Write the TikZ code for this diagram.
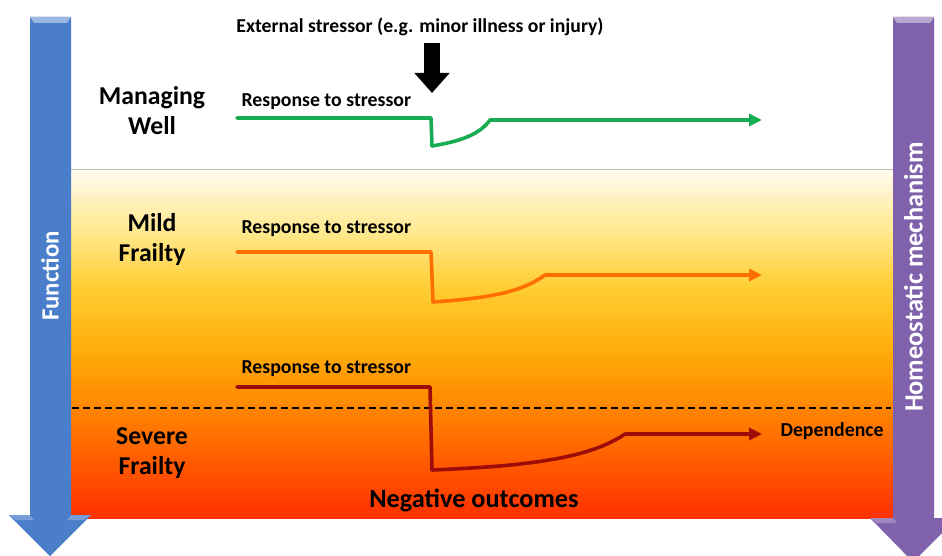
\documentclass[tikz,border=0pt]{standalone}
\usepackage{fontspec}
\setmainfont{Carlito}
\usetikzlibrary{arrows.meta,calc,positioning}
\definecolor{funcblue}{RGB}{74,126,203}
\definecolor{homeopurple}{RGB}{128,98,172}
\definecolor{wellgreen}{RGB}{24,172,82}
\definecolor{mildorange}{RGB}{255,110,0}
\definecolor{severered}{RGB}{158,12,10}
\definecolor{edgegray}{RGB}{185,185,185}
\definecolor{bandtop}{RGB}{255,251,238}
\definecolor{bandpale}{RGB}{255,232,140}
\definecolor{bandyellow}{RGB}{255,205,50}
\definecolor{bandamber}{RGB}{255,172,10}
\definecolor{bandorange}{RGB}{255,135,0}
\definecolor{banddeep}{RGB}{255,85,0}
\definecolor{bandbottom}{RGB}{255,48,0}
\pgfdeclareverticalshading{frailtyband}{100bp}{%
  color(0bp)=(bandbottom); color(25bp)=(bandbottom); color(32bp)=(banddeep);
  color(41bp)=(bandorange); color(49bp)=(bandamber); color(58bp)=(bandyellow);
  color(66bp)=(bandpale); color(75bp)=(bandtop); color(100bp)=(bandtop)}

\begin{document}
\begin{tikzpicture}[x=1pt,y=-1pt,>=Latex,line cap=round,line join=round,
  levelname/.style={font=\fontsize{25.7}{30}\selectfont\bfseries,align=center},
  resplabel/.style={font=\fontsize{19.8}{22}\selectfont\bfseries,anchor=west},
  axislabel/.style={rotate=90,text=white,font=\fontsize{24.8}{28}\selectfont\bfseries},
  response/.style={line width=3.6pt,-{Triangle[length=13pt,width=12pt]}}]
\useasboundingbox (0,0) rectangle (942,556);
\fill[white] (0,0) rectangle (942,556);

% Frailty band
\shade[shading=frailtyband] (71,170) rectangle (893,518);
\draw[edgegray,line width=1pt] (71,170) -- (893,170);
\draw[line width=1.6pt,line cap=butt,dash pattern=on 7pt off 4pt] (72,408) -- (891,408);

% Function arrow
\fill[funcblue] (30,17) -- (71,17) -- (71,515) -- (91,515) -- (50,556)
  -- (9,515) -- (30,515) -- cycle;
\fill[funcblue!55!white] (30,17) -- (71,17) -- (67,23) -- (34,23) -- cycle;
\fill[funcblue!75!white] (9,515) -- (30,515) -- (34,520) -- (16,520) -- cycle;
\fill[funcblue!75!white] (91,515) -- (71,515) -- (67,520) -- (84,520) -- cycle;
\node[axislabel] (function) at (50,276) {Function};

% Homeostasis arrow
\fill[homeopurple] (893,17) -- (934,17) -- (934,518) -- (957,518) -- (913,562)
  -- (870,518) -- (893,518) -- cycle;
\fill[homeopurple!55!white] (893,17) -- (934,17) -- (930,23) -- (897,23) -- cycle;
\fill[homeopurple!75!white] (870,518) -- (893,518) -- (897,523) -- (877,523) -- cycle;
\node[axislabel,font=\fontsize{26.4}{28}\selectfont\bfseries] (homeo) at (913.5,277) {Homeostatic mechanism};

% Stressor
\node[font=\fontsize{19.7}{22}\selectfont\bfseries] (stressor) at (420,27)
  {External stressor (e.g. minor illness or injury)};
\coordinate (stresstop) at (432,43);
\coordinate (stresstip) at (432,93);
\draw[line width=16pt,line cap=butt,-{Triangle[length=20pt,width=34pt]}]
  (stresstop) -- (stresstip);

% Levels
\node[levelname] (well) at (152,111) {Managing\\Well};
\node[levelname] (mild) at (152,240) {Mild\\Frailty};
\node[levelname] (severe) at (152,453) {Severe\\Frailty};

\node[resplabel] (wellresp) at (238,102) {Response to stressor};
\node[resplabel] (mildresp) at (238,229) {Response to stressor};
\node[resplabel] (severeresp) at (238,369) {Response to stressor};

% Responses
\coordinate (wellstart) at (237,118);
\coordinate (wellcut) at (431,118);
\coordinate (welldip) at (432,146);
\coordinate (wellback) at (490,120);
\coordinate (wellend) at (762,120);
\draw[response,wellgreen] (wellstart) -- (wellcut) -- (welldip)
  .. controls (462,141) and (480,134) .. (wellback) -- (wellend);

\coordinate (mildstart) at (237,252);
\coordinate (mildcut) at (431,252);
\coordinate (milddip) at (433,302);
\coordinate (mildback) at (545,275);
\coordinate (mildend) at (762,275);
\draw[response,mildorange] (mildstart) -- (mildcut) -- (milddip)
  .. controls (490,298) and (522,292) .. (mildback) -- (mildend);

\coordinate (severestart) at (237,387);
\coordinate (severecut) at (430,387);
\coordinate (severedip) at (432,470);
\coordinate (severeback) at (625,434);
\coordinate (severeend) at (762,434);
\draw[response,severered] (severestart) -- (severecut) -- (severedip)
  .. controls (530,466) and (590,458) .. (severeback) -- (severeend);

\node[font=\fontsize{19.8}{22}\selectfont\bfseries,anchor=west] (dependence) at (777,431) {Dependence};
\node[font=\fontsize{26.3}{28}\selectfont\bfseries] (negative) at (474,500) {Negative outcomes};
\end{tikzpicture}
\end{document}
